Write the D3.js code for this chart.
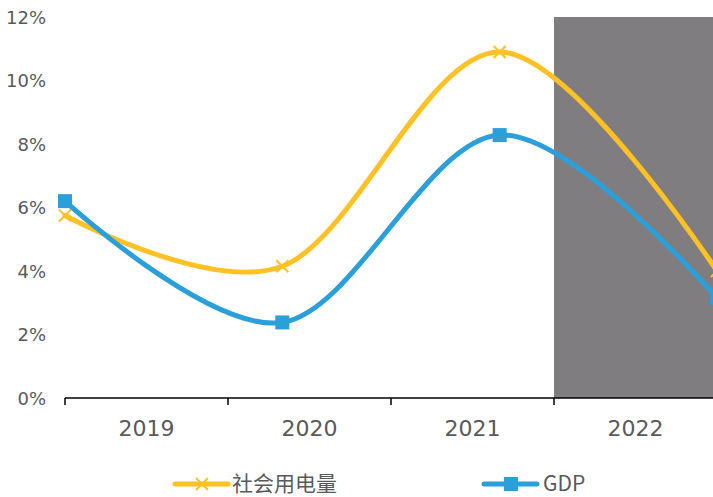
<!DOCTYPE html>
<html>
<head>
<meta charset="utf-8">
<script src="https://cdn.jsdelivr.net/npm/d3@7"></script>
<style>
  body { margin: 0; background: #fff; }
  svg { display: block; }
  .axis text { fill: #595959; font-family: "DejaVu Sans", Verdana, sans-serif; }
  .legend text { fill: #595959; font-family: "Noto Sans CJK SC", "Noto Sans", sans-serif; }
</style>
</head>
<body>
<svg id="chart" width="713" height="497"></svg>
<script>
// categories and series
var years = ["2019", "2020", "2021", "2022"];
var power = [5.75, 4.15, 10.9, 4.0];   // 社会用电量, %
var gdp = [6.2, 2.38, 8.28, 3.15];     // GDP, %
var yTicks = [0, 2, 4, 6, 8, 10, 12];
var shadedYear = "2022";

// plot box (note: "top" is taken by window.top, so use a margin object)
var box = { left: 65, right: 717, top: 17, bottom: 398 };

var svg = d3.select('#chart');

// band axis for the year labels
var xBand = d3.scaleBand().domain(years).range([box.left, box.right]);
// point scale for the lines: first point at the left edge, last at the right edge
var xPoint = d3.scalePoint().domain(years).range([box.left, box.right]);
var y = d3.scaleLinear().domain([0, 12]).range([box.bottom, box.top]);

// shaded forecast band
svg.append('rect')
  .attr('x', xBand(shadedYear))
  .attr('y', y(12))
  .attr('width', xBand.bandwidth())
  .attr('height', y(0) - y(12))
  .attr('fill', '#807d80');

// y axis: labels only
var yAxis = svg.append('g')
  .attr('class', 'axis axis-y')
  .attr('transform', 'translate(46,0)')
  .call(d3.axisLeft(y).tickValues(yTicks).tickSize(0).tickPadding(0)
    .tickFormat(function(d){ return d + '%'; }));
yAxis.select('.domain').remove();
yAxis.selectAll('text').attr('font-size', 18).attr('dy', '0.35em');

// x axis with ticks between categories
var xAxis = svg.append('g')
  .attr('class', 'axis axis-x')
  .attr('transform', 'translate(0,' + box.bottom + ')');
xAxis.append('line')
  .attr('x1', box.left).attr('x2', box.right)
  .attr('stroke', '#000').attr('stroke-width', 1.5);
xAxis.selectAll('.tick-mark')
  .data(years.concat(['end']))
  .enter().append('line')
  .attr('class', 'tick-mark')
  .attr('x1', function(d){ return d === 'end' ? box.right : xBand(d); })
  .attr('x2', function(d){ return d === 'end' ? box.right : xBand(d); })
  .attr('y1', 0).attr('y2', 7)
  .attr('stroke', '#000').attr('stroke-width', 1.5);
xAxis.selectAll('.year')
  .data(years)
  .enter().append('text')
  .attr('class', 'year')
  .attr('x', function(d){ return xBand(d) + xBand.bandwidth() / 2; })
  .attr('y', 38)
  .attr('text-anchor', 'middle')
  .attr('font-size', 22)
  .text(function(d){ return d; });

var line = d3.line()
  .x(function(d, i){ return xPoint(years[i]); })
  .y(function(d){ return y(d); })
  .curve(d3.curveCardinal.tension(0));

function crossPath(cx, cy, r) {
  return 'M' + (cx - r) + ',' + (cy - r) + 'L' + (cx + r) + ',' + (cy + r) +
         'M' + (cx - r) + ',' + (cy + r) + 'L' + (cx + r) + ',' + (cy - r);
}

var series = [
  { name: '社会用电量', values: power, color: '#ffc124', marker: 'cross' },
  { name: 'GDP', values: gdp, color: '#2b9fd9', marker: 'square' }
];

var lines = svg.append('g').attr('class', 'lines');
series.forEach(function(s){
  var g = lines.append('g');
  g.append('path')
    .datum(s.values)
    .attr('d', line)
    .attr('fill', 'none')
    .attr('stroke', s.color)
    .attr('stroke-width', 5)
    .attr('stroke-linecap', 'round');
  s.values.forEach(function(v, i){
    var cx = xPoint(years[i]), cy = y(v);
    if (s.marker === 'square') {
      g.append('rect')
        .attr('x', cx - 7).attr('y', cy - 7)
        .attr('width', 14).attr('height', 14)
        .attr('fill', s.color);
    } else {
      g.append('path')
        .attr('d', crossPath(cx, cy, 6))
        .attr('stroke', s.color)
        .attr('stroke-width', 2)
        .attr('fill', 'none');
    }
  });
});

// legend
var legend = svg.append('g').attr('class', 'legend');
var legendPos = [{ x: 175, text: 232 }, { x: 484, text: 543 }];
series.forEach(function(s, i){
  var p = legendPos[i], ly = 484;
  legend.append('line')
    .attr('x1', p.x).attr('x2', p.x + 53)
    .attr('y1', ly).attr('y2', ly)
    .attr('stroke', s.color).attr('stroke-width', 5)
    .attr('stroke-linecap', 'round');
  var cx = p.x + 27;
  if (s.marker === 'square') {
    legend.append('rect')
      .attr('x', cx - 7).attr('y', ly - 7)
      .attr('width', 14).attr('height', 14)
      .attr('fill', s.color);
  } else {
    legend.append('path')
      .attr('d', crossPath(cx, ly, 6))
      .attr('stroke', s.color).attr('stroke-width', 2);
  }
  legend.append('text')
    .attr('x', p.text).attr('y', ly)
    .attr('dy', '0.34em')
    .attr('font-size', 21)
    .text(s.name);
});
</script>
</body>
</html>
